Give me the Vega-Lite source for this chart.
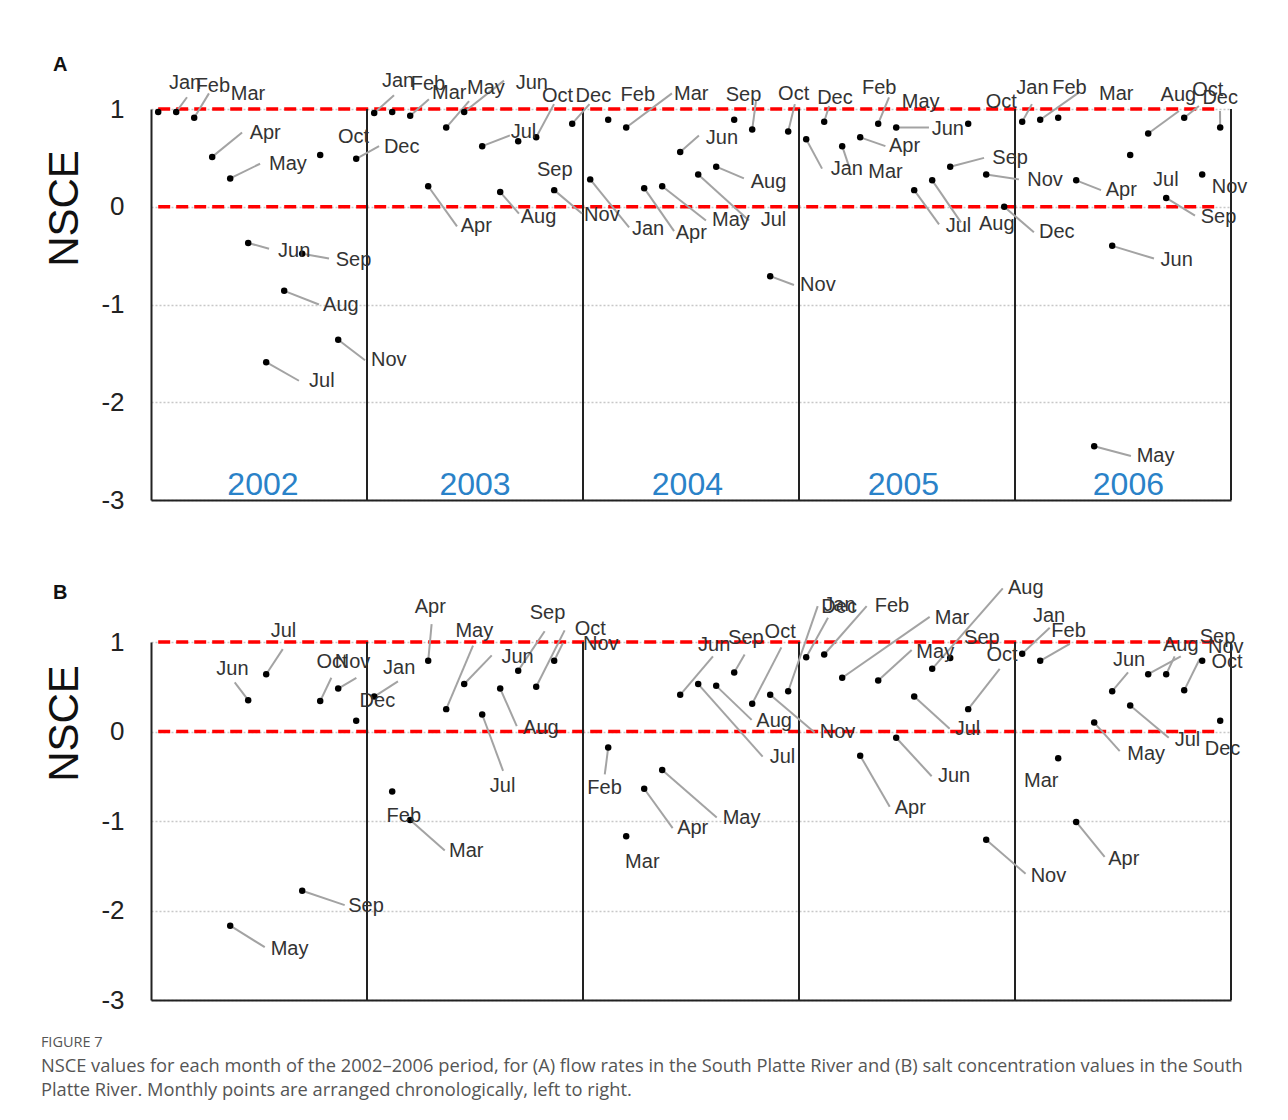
{
"$schema": "https://vega.github.io/schema/vega-lite/v6.json",
"autosize": {"type": "pad"},
"padding": {"left": 40, "top": 54, "right": 0, "bottom": 12},
"background": "white",
"bounds": "flush",
"spacing": 142,
"datasets": {
"pts": [
{"p":"A","i":0,"v":0.97,"m":"Jan","lx":0.6,"ly":1.27},
{"p":"A","i":1,"v":0.97,"m":"Feb","lx":2.08,"ly":1.24},
{"p":"A","i":2,"v":0.91,"m":"Mar","lx":4.03,"ly":1.15},
{"p":"A","i":3,"v":0.51,"m":"Apr","lx":5.08,"ly":0.75},
{"p":"A","i":4,"v":0.29,"m":"May","lx":6.16,"ly":0.44},
{"p":"A","i":5,"v":-0.37,"m":"Jun","lx":6.66,"ly":-0.45},
{"p":"A","i":6,"v":-1.59,"m":"Jul","lx":8.38,"ly":-1.78},
{"p":"A","i":7,"v":-0.86,"m":"Aug","lx":9.16,"ly":-1.0},
{"p":"A","i":8,"v":-0.48,"m":"Sep","lx":9.86,"ly":-0.54},
{"p":"A","i":9,"v":0.53,"m":"Oct","lx":9.99,"ly":0.71},
{"p":"A","i":10,"v":-1.36,"m":"Nov","lx":11.82,"ly":-1.57},
{"p":"A","i":11,"v":0.49,"m":"Dec","lx":12.54,"ly":0.61},
{"p":"A","i":12,"v":0.96,"m":"Jan","lx":12.43,"ly":1.29},
{"p":"A","i":13,"v":0.97,"m":"Feb","lx":14.03,"ly":1.26},
{"p":"A","i":14,"v":0.93,"m":"Mar","lx":15.21,"ly":1.16},
{"p":"A","i":15,"v":0.21,"m":"Apr","lx":16.81,"ly":-0.2},
{"p":"A","i":16,"v":0.81,"m":"May","lx":17.16,"ly":1.21},
{"p":"A","i":17,"v":0.97,"m":"Jun","lx":19.86,"ly":1.27},
{"p":"A","i":18,"v":0.62,"m":"Jul","lx":19.58,"ly":0.76},
{"p":"A","i":19,"v":0.15,"m":"Aug","lx":20.14,"ly":-0.1},
{"p":"A","i":20,"v":0.67,"m":"Sep","lx":21.04,"ly":0.38},
{"p":"A","i":21,"v":0.71,"m":"Oct","lx":21.32,"ly":1.13},
{"p":"A","i":22,"v":0.17,"m":"Nov","lx":23.66,"ly":-0.08},
{"p":"A","i":23,"v":0.85,"m":"Dec","lx":23.19,"ly":1.13},
{"p":"A","i":24,"v":0.28,"m":"Jan","lx":26.32,"ly":-0.23},
{"p":"A","i":25,"v":0.89,"m":"Feb","lx":25.69,"ly":1.14},
{"p":"A","i":26,"v":0.81,"m":"Mar","lx":28.66,"ly":1.15},
{"p":"A","i":27,"v":0.19,"m":"Apr","lx":28.75,"ly":-0.27},
{"p":"A","i":28,"v":0.21,"m":"May","lx":30.77,"ly":-0.14},
{"p":"A","i":29,"v":0.56,"m":"Jun","lx":30.42,"ly":0.7},
{"p":"A","i":30,"v":0.33,"m":"Jul","lx":33.47,"ly":-0.14},
{"p":"A","i":31,"v":0.41,"m":"Aug","lx":32.92,"ly":0.25},
{"p":"A","i":32,"v":0.89,"m":"Sep","lx":31.53,"ly":1.14},
{"p":"A","i":33,"v":0.79,"m":"Oct","lx":34.44,"ly":1.15},
{"p":"A","i":34,"v":-0.71,"m":"Nov","lx":35.66,"ly":-0.8},
{"p":"A","i":35,"v":0.77,"m":"Dec","lx":36.61,"ly":1.11},
{"p":"A","i":36,"v":0.69,"m":"Jan","lx":37.36,"ly":0.39},
{"p":"A","i":37,"v":0.87,"m":"Feb","lx":39.1,"ly":1.21},
{"p":"A","i":38,"v":0.62,"m":"Mar","lx":39.45,"ly":0.36},
{"p":"A","i":39,"v":0.71,"m":"Apr","lx":40.6,"ly":0.62},
{"p":"A","i":40,"v":0.85,"m":"May","lx":41.31,"ly":1.07},
{"p":"A","i":41,"v":0.81,"m":"Jun","lx":42.97,"ly":0.8},
{"p":"A","i":42,"v":0.17,"m":"Jul","lx":43.75,"ly":-0.2},
{"p":"A","i":43,"v":0.27,"m":"Aug","lx":45.6,"ly":-0.18},
{"p":"A","i":44,"v":0.41,"m":"Sep","lx":46.34,"ly":0.5},
{"p":"A","i":45,"v":0.85,"m":"Oct","lx":45.97,"ly":1.07},
{"p":"A","i":46,"v":0.33,"m":"Nov","lx":48.28,"ly":0.27},
{"p":"A","i":47,"v":0.0,"m":"Dec","lx":48.93,"ly":-0.26},
{"p":"A","i":48,"v":0.87,"m":"Jan","lx":47.67,"ly":1.21},
{"p":"A","i":49,"v":0.89,"m":"Feb","lx":49.67,"ly":1.21},
{"p":"A","i":50,"v":0.91,"m":"Mar","lx":52.27,"ly":1.15},
{"p":"A","i":51,"v":0.27,"m":"Apr","lx":52.64,"ly":0.17},
{"p":"A","i":52,"v":-2.45,"m":"May","lx":54.36,"ly":-2.55},
{"p":"A","i":53,"v":-0.4,"m":"Jun","lx":55.69,"ly":-0.54},
{"p":"A","i":54,"v":0.53,"m":"Jul","lx":55.27,"ly":0.27},
{"p":"A","i":55,"v":0.75,"m":"Aug","lx":55.69,"ly":1.14},
{"p":"A","i":56,"v":0.09,"m":"Sep","lx":57.92,"ly":-0.1},
{"p":"A","i":57,"v":0.91,"m":"Oct","lx":57.45,"ly":1.19},
{"p":"A","i":58,"v":0.33,"m":"Nov","lx":58.53,"ly":0.2},
{"p":"A","i":59,"v":0.81,"m":"Dec","lx":58.01,"ly":1.11},
{"p":"B","i":4,"v":-2.17,"m":"May","lx":6.25,"ly":-2.43},
{"p":"B","i":5,"v":0.35,"m":"Jun","lx":3.23,"ly":0.7},
{"p":"B","i":6,"v":0.64,"m":"Jul","lx":6.25,"ly":1.12},
{"p":"B","i":8,"v":-1.78,"m":"Sep","lx":10.56,"ly":-1.95},
{"p":"B","i":9,"v":0.34,"m":"Oct","lx":8.79,"ly":0.78},
{"p":"B","i":10,"v":0.48,"m":"Nov","lx":9.81,"ly":0.78},
{"p":"B","i":11,"v":0.12,"m":"Dec","lx":11.19,"ly":0.34},
{"p":"B","i":12,"v":0.39,"m":"Jan","lx":12.49,"ly":0.71},
{"p":"B","i":13,"v":-0.67,"m":"Feb","lx":12.69,"ly":-0.94},
{"p":"B","i":14,"v":-0.99,"m":"Mar","lx":16.16,"ly":-1.33},
{"p":"B","i":15,"v":0.79,"m":"Apr","lx":14.25,"ly":1.39},
{"p":"B","i":16,"v":0.25,"m":"May","lx":16.51,"ly":1.12},
{"p":"B","i":17,"v":0.53,"m":"Jun","lx":19.07,"ly":0.83},
{"p":"B","i":18,"v":0.19,"m":"Jul","lx":18.42,"ly":-0.61},
{"p":"B","i":19,"v":0.48,"m":"Aug","lx":20.27,"ly":0.04},
{"p":"B","i":20,"v":0.68,"m":"Sep","lx":20.64,"ly":1.32},
{"p":"B","i":21,"v":0.5,"m":"Oct","lx":23.14,"ly":1.14},
{"p":"B","i":22,"v":0.79,"m":"Nov","lx":23.6,"ly":0.98},
{"p":"B","i":25,"v":-0.18,"m":"Feb","lx":23.84,"ly":-0.63},
{"p":"B","i":26,"v":-1.17,"m":"Mar","lx":25.94,"ly":-1.46},
{"p":"B","i":27,"v":-0.64,"m":"Apr","lx":28.83,"ly":-1.08},
{"p":"B","i":28,"v":-0.43,"m":"May","lx":31.36,"ly":-0.97},
{"p":"B","i":29,"v":0.41,"m":"Jun","lx":29.99,"ly":0.97},
{"p":"B","i":30,"v":0.53,"m":"Jul","lx":33.97,"ly":-0.28},
{"p":"B","i":31,"v":0.51,"m":"Aug","lx":33.23,"ly":0.12},
{"p":"B","i":32,"v":0.66,"m":"Sep","lx":31.66,"ly":1.05},
{"p":"B","i":33,"v":0.31,"m":"Oct","lx":33.69,"ly":1.11},
{"p":"B","i":34,"v":0.41,"m":"Nov","lx":36.75,"ly":-0.01},
{"p":"B","i":35,"v":0.45,"m":"Dec","lx":36.84,"ly":1.39},
{"p":"B","i":36,"v":0.83,"m":"Jan","lx":36.95,"ly":1.41},
{"p":"B","i":37,"v":0.86,"m":"Feb","lx":39.81,"ly":1.4},
{"p":"B","i":38,"v":0.6,"m":"Mar","lx":43.14,"ly":1.27},
{"p":"B","i":39,"v":-0.27,"m":"Apr","lx":40.92,"ly":-0.86},
{"p":"B","i":40,"v":0.57,"m":"May","lx":42.12,"ly":0.89},
{"p":"B","i":41,"v":-0.07,"m":"Jun","lx":43.32,"ly":-0.5},
{"p":"B","i":42,"v":0.39,"m":"Jul","lx":44.25,"ly":0.03},
{"p":"B","i":43,"v":0.7,"m":"Aug","lx":47.21,"ly":1.6},
{"p":"B","i":44,"v":0.82,"m":"Sep","lx":44.77,"ly":1.04},
{"p":"B","i":45,"v":0.25,"m":"Oct","lx":46.01,"ly":0.86},
{"p":"B","i":46,"v":-1.21,"m":"Nov","lx":48.47,"ly":-1.61},
{"p":"B","i":48,"v":0.87,"m":"Jan","lx":48.6,"ly":1.29},
{"p":"B","i":49,"v":0.79,"m":"Feb","lx":49.62,"ly":1.12},
{"p":"B","i":50,"v":-0.3,"m":"Mar","lx":48.1,"ly":-0.55},
{"p":"B","i":51,"v":-1.01,"m":"Apr","lx":52.78,"ly":-1.42},
{"p":"B","i":52,"v":0.1,"m":"May","lx":53.84,"ly":-0.25},
{"p":"B","i":53,"v":0.45,"m":"Jun","lx":53.04,"ly":0.8},
{"p":"B","i":54,"v":0.29,"m":"Jul","lx":56.47,"ly":-0.09},
{"p":"B","i":55,"v":0.64,"m":"Aug","lx":55.82,"ly":0.97},
{"p":"B","i":56,"v":0.64,"m":"Sep","lx":57.86,"ly":1.06},
{"p":"B","i":57,"v":0.46,"m":"Oct","lx":58.51,"ly":0.78},
{"p":"B","i":58,"v":0.79,"m":"Nov","lx":58.32,"ly":0.94},
{"p":"B","i":59,"v":0.12,"m":"Dec","lx":58.14,"ly":-0.2}
],
"ld": [
{"p":"A","x":1,"y":0.97,"x2":1.6,"y2":1.12},
{"p":"A","x":2,"y":0.91,"x2":2.82,"y2":1.16},
{"p":"A","x":3,"y":0.51,"x2":4.66,"y2":0.76},
{"p":"A","x":4,"y":0.29,"x2":5.66,"y2":0.44},
{"p":"A","x":5,"y":-0.37,"x2":6.16,"y2":-0.43},
{"p":"A","x":8,"y":-0.48,"x2":9.49,"y2":-0.53},
{"p":"A","x":7,"y":-0.86,"x2":8.93,"y2":-1.0},
{"p":"A","x":10,"y":-1.36,"x2":11.49,"y2":-1.57},
{"p":"A","x":6,"y":-1.59,"x2":7.82,"y2":-1.78},
{"p":"A","x":11,"y":0.49,"x2":12.27,"y2":0.62},
{"p":"A","x":12,"y":0.96,"x2":13.1,"y2":1.14},
{"p":"A","x":14,"y":0.93,"x2":15.04,"y2":1.1},
{"p":"A","x":15,"y":0.21,"x2":16.6,"y2":-0.2},
{"p":"A","x":16,"y":0.81,"x2":17.27,"y2":1.08},
{"p":"A","x":17,"y":0.97,"x2":19.21,"y2":1.29},
{"p":"A","x":18,"y":0.62,"x2":19.54,"y2":0.73},
{"p":"A","x":19,"y":0.15,"x2":20.04,"y2":-0.07},
{"p":"A","x":21,"y":0.71,"x2":21.99,"y2":1.05},
{"p":"A","x":23,"y":0.85,"x2":23.96,"y2":1.05},
{"p":"A","x":22,"y":0.17,"x2":23.54,"y2":-0.07},
{"p":"A","x":24,"y":0.28,"x2":26.16,"y2":-0.21},
{"p":"A","x":26,"y":0.81,"x2":28.54,"y2":1.16},
{"p":"A","x":27,"y":0.19,"x2":28.66,"y2":-0.25},
{"p":"A","x":28,"y":0.21,"x2":30.43,"y2":-0.14},
{"p":"A","x":29,"y":0.56,"x2":30.04,"y2":0.73},
{"p":"A","x":30,"y":0.33,"x2":32.82,"y2":-0.14},
{"p":"A","x":31,"y":0.41,"x2":32.54,"y2":0.29},
{"p":"A","x":33,"y":0.79,"x2":33.21,"y2":1.08},
{"p":"A","x":35,"y":0.77,"x2":35.37,"y2":1.05},
{"p":"A","x":34,"y":-0.71,"x2":35.32,"y2":-0.8},
{"p":"A","x":37,"y":0.87,"x2":37.27,"y2":1.03},
{"p":"A","x":36,"y":0.69,"x2":36.88,"y2":0.39},
{"p":"A","x":40,"y":0.85,"x2":40.6,"y2":1.12},
{"p":"A","x":41,"y":0.81,"x2":42.82,"y2":0.81},
{"p":"A","x":39,"y":0.71,"x2":40.4,"y2":0.62},
{"p":"A","x":38,"y":0.62,"x2":38.38,"y2":0.41},
{"p":"A","x":44,"y":0.41,"x2":45.88,"y2":0.5},
{"p":"A","x":46,"y":0.33,"x2":47.82,"y2":0.28},
{"p":"A","x":42,"y":0.17,"x2":43.38,"y2":-0.18},
{"p":"A","x":43,"y":0.27,"x2":44.6,"y2":-0.16},
{"p":"A","x":47,"y":0.0,"x2":48.65,"y2":-0.26},
{"p":"A","x":48,"y":0.87,"x2":48.54,"y2":1.05},
{"p":"A","x":49,"y":0.89,"x2":51.16,"y2":1.17},
{"p":"A","x":51,"y":0.27,"x2":52.38,"y2":0.17},
{"p":"A","x":52,"y":-2.45,"x2":54.04,"y2":-2.55},
{"p":"A","x":53,"y":-0.4,"x2":55.32,"y2":-0.53},
{"p":"A","x":55,"y":0.75,"x2":56.71,"y2":0.98},
{"p":"A","x":57,"y":0.91,"x2":57.82,"y2":1.03},
{"p":"A","x":59,"y":0.81,"x2":58.99,"y2":0.98},
{"p":"A","x":56,"y":0.09,"x2":57.6,"y2":-0.09},
{"p":"B","x":6,"y":0.64,"x2":6.92,"y2":0.92},
{"p":"B","x":5,"y":0.35,"x2":4.25,"y2":0.55},
{"p":"B","x":9,"y":0.34,"x2":9.62,"y2":0.6},
{"p":"B","x":10,"y":0.48,"x2":11.01,"y2":0.6},
{"p":"B","x":12,"y":0.39,"x2":13.32,"y2":0.56},
{"p":"B","x":4,"y":-2.17,"x2":5.92,"y2":-2.41},
{"p":"B","x":8,"y":-1.78,"x2":10.36,"y2":-1.94},
{"p":"B","x":15,"y":0.79,"x2":15.19,"y2":1.2},
{"p":"B","x":16,"y":0.25,"x2":17.49,"y2":0.96},
{"p":"B","x":17,"y":0.53,"x2":18.53,"y2":0.85},
{"p":"B","x":20,"y":0.68,"x2":21.47,"y2":1.12},
{"p":"B","x":21,"y":0.5,"x2":22.58,"y2":1.13},
{"p":"B","x":22,"y":0.79,"x2":22.49,"y2":0.99},
{"p":"B","x":19,"y":0.48,"x2":19.92,"y2":0.06},
{"p":"B","x":18,"y":0.19,"x2":19.16,"y2":-0.44},
{"p":"B","x":14,"y":-0.99,"x2":15.92,"y2":-1.33},
{"p":"B","x":25,"y":-0.18,"x2":24.81,"y2":-0.48},
{"p":"B","x":27,"y":-0.64,"x2":28.58,"y2":-1.08},
{"p":"B","x":28,"y":-0.43,"x2":31.03,"y2":-0.96},
{"p":"B","x":29,"y":0.41,"x2":30.82,"y2":0.84},
{"p":"B","x":32,"y":0.66,"x2":32.58,"y2":0.86},
{"p":"B","x":33,"y":0.31,"x2":34.62,"y2":0.94},
{"p":"B","x":31,"y":0.51,"x2":32.97,"y2":0.13},
{"p":"B","x":30,"y":0.53,"x2":33.58,"y2":-0.28},
{"p":"B","x":34,"y":0.41,"x2":36.47,"y2":-0.01},
{"p":"B","x":35,"y":0.45,"x2":36.64,"y2":1.4},
{"p":"B","x":36,"y":0.83,"x2":37.21,"y2":1.27},
{"p":"B","x":37,"y":0.86,"x2":39.36,"y2":1.4},
{"p":"B","x":38,"y":0.6,"x2":42.86,"y2":1.28},
{"p":"B","x":40,"y":0.57,"x2":41.86,"y2":0.91},
{"p":"B","x":45,"y":0.25,"x2":46.75,"y2":0.7},
{"p":"B","x":43,"y":0.7,"x2":46.92,"y2":1.6},
{"p":"B","x":42,"y":0.39,"x2":43.97,"y2":0.03},
{"p":"B","x":41,"y":-0.07,"x2":42.97,"y2":-0.5},
{"p":"B","x":39,"y":-0.27,"x2":40.64,"y2":-0.84},
{"p":"B","x":46,"y":-1.21,"x2":48.19,"y2":-1.59},
{"p":"B","x":48,"y":0.87,"x2":49.53,"y2":1.16},
{"p":"B","x":49,"y":0.79,"x2":50.64,"y2":0.98},
{"p":"B","x":51,"y":-1.01,"x2":52.58,"y2":-1.4},
{"p":"B","x":52,"y":0.1,"x2":53.42,"y2":-0.22},
{"p":"B","x":53,"y":0.45,"x2":53.88,"y2":0.66},
{"p":"B","x":54,"y":0.29,"x2":56.14,"y2":-0.07},
{"p":"B","x":55,"y":0.64,"x2":56.81,"y2":0.84},
{"p":"B","x":56,"y":0.64,"x2":56.47,"y2":0.84},
{"p":"B","x":57,"y":0.46,"x2":57.86,"y2":0.81}
],
"sep": [{"x":11.6},{"x":23.6},{"x":35.6},{"x":47.6},{"x":59.6}],
"ref": [{"y":0},{"y":1}],
"yrs": [{"x":5.82,"y":-2.85,"t":"2002"},{"x":17.6,"y":-2.85,"t":"2003"},{"x":29.4,"y":-2.85,"t":"2004"},{"x":41.4,"y":-2.85,"t":"2005"},{"x":53.9,"y":-2.85,"t":"2006"}]
},
"vconcat": [
{
"title": {"text": "A", "anchor": "start", "frame": "bounds", "fontSize": 20, "fontWeight": "bold", "offset": -4, "dx": 9, "color": "#111", "font": "Liberation Sans"},
"width": 1080, "height": 391,
"layer": [
{"data": {"name": "ref"}, "mark": {"type": "rule", "color": "#ff0000", "strokeWidth": 3.5, "strokeDash": [12, 6]},
 "encoding": {"y": {"field": "y", "type": "quantitative", "scale": {"domain": [-3, 1], "nice": false}, "title": "NSCE", "axis": {"title": "NSCE", "titleY": 99, "values": [-3, -2, -1, 0, 1], "labelExpr": "'' + datum.value"}},
  "x": {"datum": 0, "type": "quantitative", "scale": {"domain": [-0.4, 59.6], "nice": false, "zero": false}, "title": null}, "x2": {"datum": 59}}},
{"data": {"name": "sep"}, "mark": {"type": "rule", "color": "#222", "strokeWidth": 2},
 "encoding": {"x": {"field": "x", "type": "quantitative", "scale": {"domain": [-0.4, 59.6], "nice": false, "zero": false}, "title": null},
  "y": {"datum": -3, "type": "quantitative"}, "y2": {"datum": 1}}},
{"data": {"name": "ld"}, "transform": [{"filter": "datum.p === 'A'"}], "mark": {"type": "rule", "color": "#a3a3a3", "strokeWidth": 2},
 "encoding": {"x": {"field": "x", "type": "quantitative", "title": null}, "y": {"field": "y", "type": "quantitative", "title": "NSCE"}, "x2": {"field": "x2"}, "y2": {"field": "y2"}}},
{"data": {"name": "pts"}, "transform": [{"filter": "datum.p === 'A'"}], "mark": {"type": "circle", "color": "#000", "size": 42, "opacity": 1},
 "encoding": {"x": {"field": "i", "type": "quantitative", "title": null}, "y": {"field": "v", "type": "quantitative", "title": "NSCE"}}},
{"data": {"name": "pts"}, "transform": [{"filter": "datum.p === 'A'"}], "mark": {"type": "text", "align": "left", "baseline": "middle", "fontSize": 20, "font": "Liberation Sans", "color": "#333"},
 "encoding": {"x": {"field": "lx", "type": "quantitative", "title": null}, "y": {"field": "ly", "type": "quantitative", "title": "NSCE"}, "text": {"field": "m"}}},
{"data": {"name": "yrs"}, "mark": {"type": "text", "align": "center", "baseline": "middle", "fontSize": 32, "font": "Liberation Sans", "color": "#2a82c8"},
 "encoding": {"x": {"field": "x", "type": "quantitative", "title": null}, "y": {"field": "y", "type": "quantitative", "title": "NSCE"}, "text": {"field": "t"}}}
]
},
{
"title": {"text": "B", "anchor": "start", "frame": "bounds", "fontSize": 20, "fontWeight": "bold", "offset": -25, "dx": 9, "color": "#111", "font": "Liberation Sans"},
"width": 1080, "height": 358,
"layer": [
{"data": {"name": "ref"}, "mark": {"type": "rule", "color": "#ff0000", "strokeWidth": 3.5, "strokeDash": [12, 6]},
 "encoding": {"y": {"field": "y", "type": "quantitative", "scale": {"domain": [-3, 1], "nice": false}, "title": "NSCE", "axis": {"title": "NSCE", "titleY": 81, "values": [-3, -2, -1, 0, 1], "labelExpr": "'' + datum.value"}},
  "x": {"datum": 0, "type": "quantitative", "scale": {"domain": [-0.4, 59.6], "nice": false, "zero": false}, "title": null}, "x2": {"datum": 59}}},
{"data": {"name": "sep"}, "mark": {"type": "rule", "color": "#222", "strokeWidth": 2},
 "encoding": {"x": {"field": "x", "type": "quantitative", "scale": {"domain": [-0.4, 59.6], "nice": false, "zero": false}, "title": null},
  "y": {"datum": -3, "type": "quantitative"}, "y2": {"datum": 1}}},
{"data": {"name": "ld"}, "transform": [{"filter": "datum.p === 'B'"}], "mark": {"type": "rule", "color": "#a3a3a3", "strokeWidth": 2},
 "encoding": {"x": {"field": "x", "type": "quantitative", "title": null}, "y": {"field": "y", "type": "quantitative", "title": "NSCE"}, "x2": {"field": "x2"}, "y2": {"field": "y2"}}},
{"data": {"name": "pts"}, "transform": [{"filter": "datum.p === 'B'"}], "mark": {"type": "circle", "color": "#000", "size": 42, "opacity": 1},
 "encoding": {"x": {"field": "i", "type": "quantitative", "title": null}, "y": {"field": "v", "type": "quantitative", "title": "NSCE"}}},
{"data": {"name": "pts"}, "transform": [{"filter": "datum.p === 'B'"}], "mark": {"type": "text", "align": "left", "baseline": "middle", "fontSize": 20, "font": "Liberation Sans", "color": "#333"},
 "encoding": {"x": {"field": "lx", "type": "quantitative", "title": null}, "y": {"field": "ly", "type": "quantitative", "title": "NSCE"}, "text": {"field": "m"}}}
]
}
],
"title": {
 "text": "FIGURE 7",
 "subtitle": ["NSCE values for each month of the 2002–2006 period, for (A) flow rates in the South Platte River and (B) salt concentration values in the South", "Platte River. Monthly points are arranged chronologically, left to right."],
 "orient": "bottom", "anchor": "start", "frame": "bounds", "offset": 23, "dx": -3,
 "font": "Open Sans", "fontSize": 14.5, "fontWeight": "normal", "color": "#555",
 "subtitleFont": "Open Sans", "subtitleFontSize": 18.3, "subtitleColor": "#555", "subtitleLineHeight": 24, "subtitlePadding": 7
},
"config": {
 "view": {"stroke": null},
 "font": "Liberation Sans",
 "axisX": {"labels": false, "ticks": false, "grid": false, "domain": true, "domainColor": "#222", "domainWidth": 2},
 "axisY": {"labelFontSize": 26, "labelColor": "#222", "labelPadding": 27, "labelFont": "Liberation Sans", "ticks": false, "domainColor": "#222", "domainWidth": 2, "grid": true, "gridColor": "#c8c8c8", "gridDash": [2, 2], "gridWidth": 1.5, "titleFontSize": 42, "titleFontWeight": "normal", "titleColor": "#111", "titleFont": "Liberation Sans", "titlePadding": 14}
}
}
